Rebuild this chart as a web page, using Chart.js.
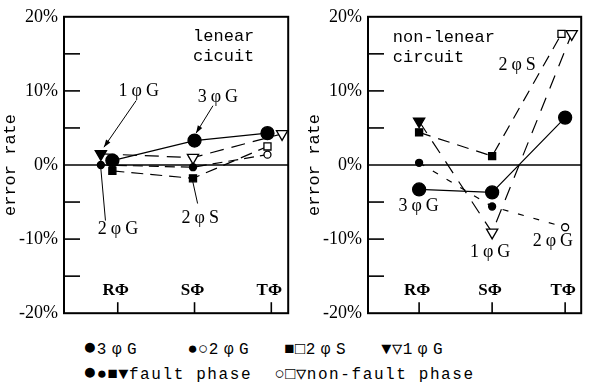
<!DOCTYPE html>
<html lang="en">
<head>
<meta charset="UTF-8">
<title>Error rate by phase</title>
<script src="https://cdn.jsdelivr.net/npm/chart.js"></script>
<style>
  body {
    margin: 0;
    width: 589px;
    height: 392px;
    position: relative;
    overflow: hidden;
    background: #fff;
    font-family: "Liberation Mono", "DejaVu Sans Mono", monospace;
    color: #000;
  }
  #leftWrap { position: absolute; left: 0; top: 0; width: 296px; height: 330px; }
  #rightWrap { position: absolute; left: 304px; top: 0; width: 285px; height: 330px; }
  .legend {
    position: absolute;
    left: 83px;
    font-size: 16px;
    line-height: 20px;
    white-space: pre;
  }
  .l1 { top: 340px; letter-spacing: 5.5px; }
  .l2 { top: 365px; letter-spacing: 1.6px; }
  .big { font-size: 23px; letter-spacing: 0; line-height: 16px; }
  .sm { font-size: 17px; letter-spacing: 0.5px; line-height: 16px; }
</style>
</head>
<body>
<div id="leftWrap"><canvas id="linChart"></canvas></div>
<div id="rightWrap"><canvas id="nonlinChart"></canvas></div>

<div class="legend l1"><span class="big">●</span>3φG   <span class="sm">●○</span>2φG  <span class="sm">■□</span>2φS  <span class="sm">▼▽</span>1φG</div>
<div class="legend l2"><span class="big">●</span><span class="sm">●■▼</span>fault phase  <span class="sm">○□▽</span>non-fault phase</div>

<script>
const phases = ['RΦ', 'SΦ', 'TΦ'];
const yTicks = [-20, -15, -10, -5, 0, 5, 10, 15, 20];

// linear circuit, error rate in %
const lin3phG = [0.6, 3.3, 4.3];
const lin2phG = [0.0, -0.3, 1.4];
const lin2phS = [-0.8, -1.8, 2.5];
const lin1phG = [1.5, 1.0, 4.2];
// small shift from the phase position (marks are nudged apart in the figure)
const linX3phG = [-0.07, 0, -0.05];
const linX2phG = [-0.22, -0.02, -0.05];
const linX2phS = [-0.07, -0.02, -0.05];
const linX1phG = [-0.22, -0.02, 0.14];

// non-linear circuit, error rate in %
const nonlin3phG = [-3.3, -3.7, 6.4];
const nonlin2phG = [0.3, -5.6, -8.4];
const nonlin2phS = [4.4, 1.2, 17.7];
const nonlin1phG = [5.9, -9.1, 17.7];
const nonlinX3phG = [0, 0, 0];
const nonlinX2phG = [0, 0, 0];
const nonlinX2phS = [0, 0, -0.05];
const nonlinX1phG = [0, 0, 0.09];

// 1 = fault phase (filled mark), 0 = non-fault phase (open mark)
const fault3phG = [1, 1, 1];
const fault2phG = [1, 1, 0];
const fault2phS = [1, 1, 0];
const fault1phG = [1, 0, 0];

function series(label, values, shift, fault, style, radius, dash) {
    return {
        label: label,
        data: values.map((v, i) => ({ x: i + shift[i], y: v })),
        borderColor: '#000',
        borderWidth: 1.2,
        borderDash: dash,
        pointStyle: style,
        pointRadius: radius,
        pointRotation: style === 'triangle' ? 180 : 0,
        pointBackgroundColor: fault.map(f => f ? '#000' : '#fff'),
        pointBorderColor: '#000',
        pointBorderWidth: 1.3,
        tension: 0
    };
}

// frame, inward tick marks, zero line and phase labels
const framePlugin = {
    id: 'frame',
    beforeDatasetsDraw(chart) {
        const { ctx, chartArea: a, scales: { x, y } } = chart;
        ctx.save();
        ctx.strokeStyle = '#000';
        ctx.lineWidth = 2;
        ctx.strokeRect(a.left, a.top, a.right - a.left, a.bottom - a.top);
        ctx.lineWidth = 1.6;
        yTicks.forEach(v => {
            if (v === 20 || v === -20) return;
            const py = y.getPixelForValue(v);
            ctx.beginPath();
            ctx.moveTo(a.left, py);
            ctx.lineTo(v === 0 ? a.right : a.left + 16, py);
            ctx.stroke();
        });
        ctx.font = 'bold 17px "Liberation Serif", serif';
        ctx.fillStyle = '#000';
        ctx.textAlign = 'center';
        ctx.textBaseline = 'middle';
        phases.forEach((p, i) => {
            const px = x.getPixelForValue(i);
            ctx.beginPath();
            ctx.moveTo(px, a.bottom);
            ctx.lineTo(px, a.bottom - 11);
            ctx.stroke();
            ctx.fillText(p, px - 2, a.bottom - 23);
        });
        ctx.restore();
    }
};

// text notes with leader lines, placed in data units
const notesPlugin = {
    id: 'notes',
    afterDraw(chart, args, opts) {
        const { ctx, scales: { x, y } } = chart;
        ctx.save();
        ctx.fillStyle = '#000';
        ctx.strokeStyle = '#000';
        ctx.lineWidth = 1;
        ctx.textBaseline = 'middle';
        (opts.items || []).forEach(n => {
            ctx.font = n.font || '18px "Liberation Serif", serif';
            ctx.letterSpacing = n.spacing || '0px';
            ctx.textAlign = n.align || 'center';
            ctx.fillText(n.text, x.getPixelForValue(n.x), y.getPixelForValue(n.y));
            if (!n.from) return;
            const x1 = x.getPixelForValue(n.from[0]), y1 = y.getPixelForValue(n.from[1]);
            const x2 = x.getPixelForValue(n.to[0]), y2 = y.getPixelForValue(n.to[1]);
            ctx.beginPath();
            ctx.moveTo(x1, y1);
            ctx.lineTo(x2, y2);
            ctx.stroke();
            if (n.head) {
                const ang = Math.atan2(y2 - y1, x2 - x1);
                ctx.beginPath();
                ctx.moveTo(x2, y2);
                ctx.lineTo(x2 - 8 * Math.cos(ang - 0.33), y2 - 8 * Math.sin(ang - 0.33));
                ctx.lineTo(x2 - 8 * Math.cos(ang + 0.33), y2 - 8 * Math.sin(ang + 0.33));
                ctx.closePath();
                ctx.fill();
            }
        });
        ctx.restore();
    }
};

const mono = '17px "Liberation Mono", monospace';

function makeChart(id, sets, notes) {
    return new Chart(document.getElementById(id), {
        type: 'line',
        data: { datasets: sets },
        options: {
            responsive: true,
            maintainAspectRatio: false,
            animation: false,
            layout: { padding: { top: 13, bottom: 14, left: 0, right: 1 } },
            plugins: {
                legend: { display: false },
                tooltip: { enabled: false },
                notes: { items: notes }
            },
            scales: {
                x: {
                    type: 'linear',
                    min: -0.7,
                    max: 2.22,
                    display: false
                },
                y: {
                    min: -20,
                    max: 20,
                    afterFit(scale) { scale.width = 64; },
                    afterBuildTicks(scale) { scale.ticks = yTicks.map(v => ({ value: v })); },
                    grid: { display: false, drawTicks: false },
                    border: { display: false },
                    ticks: {
                        padding: 6,
                        color: '#000',
                        font: { family: '"Liberation Serif", serif', size: 18 },
                        callback: v => (v % 10 === 0 ? v + '%' : '')
                    },
                    title: {
                        display: true,
                        text: 'error rate',
                        color: '#000',
                        padding: { top: 0, bottom: 0 },
                        font: { family: '"Liberation Mono", monospace', size: 17 }
                    }
                }
            }
        },
        plugins: [framePlugin, notesPlugin]
    });
}

makeChart('linChart', [
    series('2φG', lin2phG, linX2phG, fault2phG, 'circle', 3.5, [10, 6]),
    series('2φS', lin2phS, linX2phS, fault2phS, 'rect', 5, [12, 7]),
    series('1φG', lin1phG, linX1phG, fault1phG, 'triangle', 6.5, [14, 8]),
    series('3φG', lin3phG, linX3phG, fault3phG, 'circle', 6.5, [])
], [
    { text: 'lenear', x: 1.38, y: 17.3, font: mono },
    { text: 'cicuit', x: 1.38, y: 14.6, font: mono },
    { text: '1φG', x: 0.3, y: 10, spacing: '4px', from: [0.24, 8.7], to: [-0.18, 2.4], head: true },
    { text: '3φG', x: 1.33, y: 9.2, spacing: '4px', from: [1.24, 8.0], to: [1.02, 4.3], head: true },
    { text: '2φG', x: 0.03, y: -8.7, spacing: '4px', from: [-0.16, -7.5], to: [-0.22, -0.5] },
    { text: '2φS', x: 1.1, y: -7.2, spacing: '4px', from: [1.04, -5.2], to: [0.97, -1.9] }
]);

makeChart('nonlinChart', [
    series('2φG', nonlin2phG, nonlinX2phG, fault2phG, 'circle', 3.5, [6, 10]),
    series('2φS', nonlin2phS, nonlinX2phS, fault2phS, 'rect', 5, [12, 8]),
    series('1φG', nonlin1phG, nonlinX1phG, fault1phG, 'triangle', 6.5, [14, 10]),
    series('3φG', nonlin3phG, nonlinX3phG, fault3phG, 'circle', 6.5, [])
], [
    { text: 'non-lenear', x: -0.36, y: 17.2, font: mono, align: 'left' },
    { text: 'circuit', x: -0.36, y: 14.5, font: mono, align: 'left' },
    { text: '2φS', x: 1.37, y: 13.5, spacing: '4px' },
    { text: '3φG', x: 0.02, y: -5.6, spacing: '4px' },
    { text: '1φG', x: 1.0, y: -11.8, spacing: '4px' },
    { text: '2φG', x: 1.86, y: -10.3, spacing: '4px' }
]);
</script>
</body>
</html>
